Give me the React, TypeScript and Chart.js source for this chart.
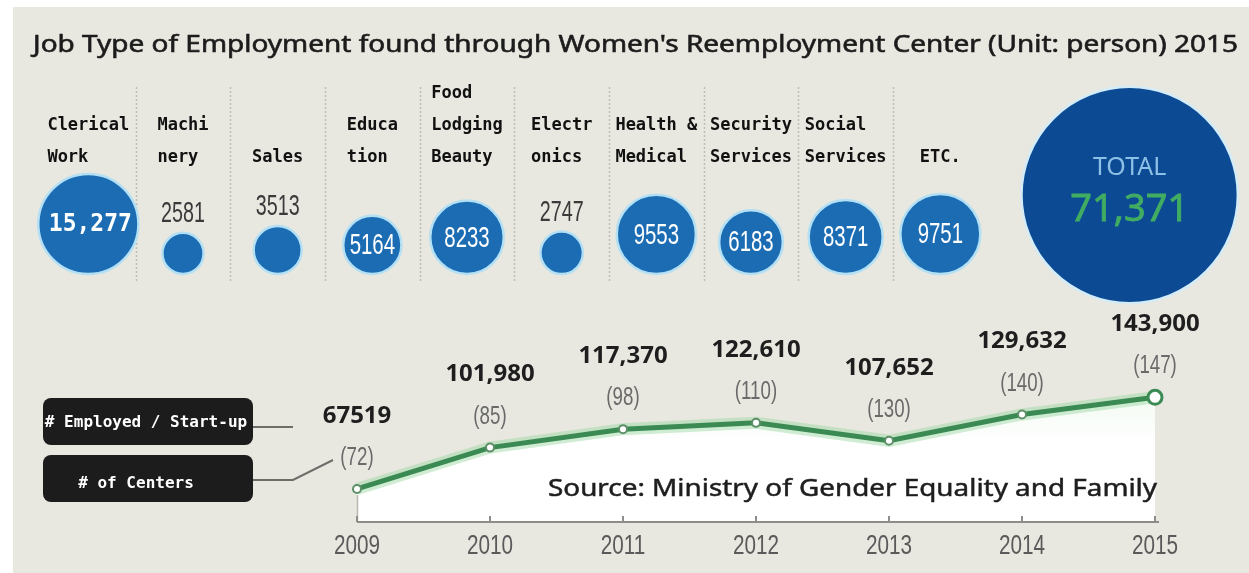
import React, { useEffect, useRef } from 'react';
import { Chart, registerables } from 'chart.js';

Chart.register(...registerables);

// ---------- data ----------
const titleText = "Job Type of Employment found through Women's Reemployment Center (Unit: person) 2015";
const jobCategories: string[][] = [
  ['Clerical', 'Work'],
  ['Machi', 'nery'],
  ['Sales'],
  ['Educa', 'tion'],
  ['Food', 'Lodging', 'Beauty'],
  ['Electr', 'onics'],
  ['Health &', 'Medical'],
  ['Security', 'Services'],
  ['Social', 'Services'],
  ['ETC.'],
];
const jobValues = [15277, 2581, 3513, 5164, 8233, 2747, 9553, 6183, 8371, 9751];
const totalLabel = 'TOTAL';
const totalValue = 71371;

const years = ['2009', '2010', '2011', '2012', '2013', '2014', '2015'];
const employed = [67519, 101980, 117370, 122610, 107652, 129632, 143900];
const centers = [72, 85, 98, 110, 130, 140, 147];
const legendLabels = ['# Employed / Start-up', '# of Centers'];
const sourceText = 'Source: Ministry of Gender Equality and Family';

// ---------- style constants ----------
const BUBBLE_K = 0.405; // px radius per sqrt(person)
const BUBBLE_BASE = 46; // bottom line of bubbles (scale units from bottom of top canvas)
const TOTAL_CENTER = 125;
const TOP_H = 320;
const BOT_H = 273;

const fmtComma = (v: number) => v.toLocaleString('en-US');

function drawText(
  ctx: CanvasRenderingContext2D,
  text: string,
  x: number,
  y: number,
  font: string,
  color: string,
  sx = 1,
  align: CanvasTextAlign = 'center',
  stroke = 0
) {
  ctx.save();
  ctx.font = font;
  ctx.fillStyle = color;
  ctx.textAlign = align;
  ctx.textBaseline = 'middle';
  ctx.translate(x, y);
  ctx.scale(sx, 1);
  ctx.fillText(text, 0, 0);
  if (stroke > 0) {
    ctx.strokeStyle = color;
    ctx.lineWidth = stroke;
    ctx.strokeText(text, 0, 0);
  }
  ctx.restore();
}

function fitText(
  ctx: CanvasRenderingContext2D,
  text: string,
  x: number,
  y: number,
  font: string,
  color: string,
  width: number,
  align: CanvasTextAlign = 'left',
  stroke = 0
) {
  ctx.save();
  ctx.font = font;
  const w = ctx.measureText(text).width;
  ctx.restore();
  let sx = width / w;
  sx = Math.max(0.8, Math.min(1.3, sx));
  drawText(ctx, text, x, y, font, color, sx, align, stroke);
}

const NARROW = '"Liberation Sans", Arial, sans-serif';
const PIXEL = '"DejaVu Sans Mono", monospace';
const SANS = '"Noto Sans", "Open Sans", sans-serif';

const topPlugin = {
  id: 'topDecor',
  beforeDatasetsDraw(chart: any) {
    const ctx: CanvasRenderingContext2D = chart.ctx;
    const xs = chart.scales.x;
    ctx.save();
    ctx.strokeStyle = '#bebcb4';
    ctx.lineWidth = 1.5;
    ctx.setLineDash([2, 2]);
    for (let i = 0; i < jobValues.length - 1; i++) {
      const x = Math.round((xs.getPixelForValue(i) + xs.getPixelForValue(i + 1)) / 2) + 0.5;
      ctx.beginPath();
      ctx.moveTo(x, 87);
      ctx.lineTo(x, 283);
      ctx.stroke();
    }
    ctx.restore();

    // title
    fitText(ctx, titleText, 33, 45, `24px ${SANS}`, '#1c1c1c', 1205, 'left', 0.6);

    // category labels
    ctx.save();
    ctx.font = `bold 17px ${PIXEL}`;
    ctx.fillStyle = '#111111';
    ctx.textAlign = 'left';
    ctx.textBaseline = 'middle';
    jobCategories.forEach((lines, i) => {
      const cx = xs.getPixelForValue(i);
      const w = Math.max(...lines.map((l) => ctx.measureText(l).width));
      const left = cx - w / 2;
      lines.forEach((l, j) => {
        ctx.fillText(l, left, 158 - (lines.length - 1 - j) * 32);
      });
    });
    ctx.restore();
  },
  afterDatasetsDraw(chart: any) {
    const ctx: CanvasRenderingContext2D = chart.ctx;
    const meta = chart.getDatasetMeta(0);
    jobValues.forEach((v, i) => {
      const el = meta.data[i];
      const r = el.options.radius;
      if (v >= 10000) {
        drawText(ctx, fmtComma(v), el.x + 2, el.y + 1, `bold 25px ${PIXEL}`, '#ffffff', 0.92);
      } else if (r > 26) {
        drawText(ctx, String(v), el.x, el.y + 1, `30px ${NARROW}`, '#ffffff', 0.68);
      } else {
        drawText(ctx, String(v), el.x, el.y - r - 19, `29px ${NARROW}`, '#3a3a3a', 0.68);
      }
    });
    const tm = chart.getDatasetMeta(1).data[0];
    drawText(ctx, totalLabel, tm.x, tm.y - 27, `25px ${SANS}`, '#8cc0e6', 1);
    drawText(ctx, fmtComma(totalValue), tm.x, tm.y + 15, `38px ${SANS}`, '#41ad62', 1, 'center', 0.8);
  },
};

const botPlugin = {
  id: 'botDecor',
  afterDatasetsDraw(chart: any) {
    const ctx: CanvasRenderingContext2D = chart.ctx;
    const xs = chart.scales.x;
    const ca = chart.chartArea;
    const meta = chart.getDatasetMeta(1);
    const x0 = xs.getPixelForValue(0);
    const xN = xs.getPixelForValue(years.length - 1);

    ctx.save();
    // faint left edge of area
    ctx.strokeStyle = '#b8b8b2';
    ctx.lineWidth = 1.5;
    ctx.beginPath();
    ctx.moveTo(x0 + 0.5, meta.data[0].y + 6);
    ctx.lineTo(x0 + 0.5, ca.bottom);
    ctx.stroke();
    // axis
    ctx.strokeStyle = '#8d8d8a';
    ctx.lineWidth = 2;
    ctx.beginPath();
    ctx.moveTo(x0, ca.bottom);
    ctx.lineTo(xN + 4, ca.bottom);
    ctx.stroke();
    years.forEach((_, i) => {
      const x = xs.getPixelForValue(i);
      ctx.beginPath();
      ctx.moveTo(x, ca.bottom);
      ctx.lineTo(x, ca.bottom - 6);
      ctx.stroke();
    });
    ctx.restore();

    years.forEach((y, i) => {
      drawText(ctx, y, xs.getPixelForValue(i), ca.bottom + 24, `28px ${NARROW}`, '#5a5a5a', 0.74);
    });

    // value labels
    employed.forEach((v, i) => {
      const el = meta.data[i];
      const txt = v >= 100000 ? fmtComma(v) : String(v);
      drawText(ctx, txt, el.x, el.y - 73, `bold 24px ${SANS}`, '#1e1e1e', 1);
      drawText(ctx, `(${centers[i]})`, el.x, el.y - 31, `26px ${NARROW}`, '#6a6a6a', 0.72);
    });

    // source
    fitText(ctx, sourceText, xN + 2, 189, `24px ${SANS}`, '#1e1e1e', 609, 'right', 0.5);

    // legend boxes
    ctx.save();
    ctx.fillStyle = '#1c1c1c';
    ctx.beginPath();
    (ctx as any).roundRect(43, 98, 210, 47, 8);
    ctx.fill();
    ctx.beginPath();
    (ctx as any).roundRect(43, 155, 210, 47, 8);
    ctx.fill();
    ctx.strokeStyle = '#6d6d6a';
    ctx.lineWidth = 2;
    ctx.beginPath();
    ctx.moveTo(253, 127);
    ctx.lineTo(293, 127);
    ctx.stroke();
    ctx.beginPath();
    ctx.moveTo(253, 180);
    ctx.lineTo(293, 180);
    ctx.lineTo(333, 160);
    ctx.stroke();
    ctx.restore();
    drawText(ctx, legendLabels[0], 146, 123, `bold 16px ${PIXEL}`, '#ffffff', 1);
    drawText(ctx, legendLabels[1], 136, 184, `bold 16px ${PIXEL}`, '#ffffff', 1);
  },
};

export default function App() {
  const topRef = useRef<HTMLCanvasElement>(null);
  const botRef = useRef<HTMLCanvasElement>(null);

  useEffect(() => {
    const bubbleData = jobValues.map((v, i) => {
      const r = BUBBLE_K * Math.sqrt(v);
      return { x: i, y: BUBBLE_BASE + r, r };
    });
    const totalData = [{ x: jobValues.length + 1, y: TOTAL_CENTER, r: BUBBLE_K * Math.sqrt(totalValue) }];

    const c1 = new Chart(topRef.current!, {
      type: 'bubble',
      data: {
        datasets: [
          {
            data: bubbleData,
            backgroundColor: '#1b6cb3',
            borderColor: '#b3e0f4',
            borderWidth: 2.5,
            clip: false as any,
          },
          {
            data: totalData,
            backgroundColor: '#0c4b94',
            borderColor: '#d3ecf7',
            borderWidth: 2.5,
            clip: false as any,
          },
        ],
      },
      options: {
        responsive: false,
        animation: false,
        events: [],
        layout: { autoPadding: false, padding: { left: 41, right: 72, top: 0, bottom: 0 } },
        scales: {
          x: { type: 'linear', min: -0.5, max: 11.5, display: false },
          y: { type: 'linear', min: 0, max: TOP_H, display: false },
        },
        plugins: { legend: { display: false }, tooltip: { enabled: false } },
      } as any,
      plugins: [topPlugin],
    });

    const last = employed.length - 1;
    const c2 = new Chart(botRef.current!, {
      type: 'line',
      data: {
        labels: years,
        datasets: [
          {
            data: employed,
            borderColor: 'rgba(150,215,160,0.45)',
            borderWidth: 12,
            pointRadius: 0,
            fill: false,
            order: 2,
            clip: false as any,
          },
          {
            data: employed,
            borderColor: '#3b8a53',
            borderWidth: 5,
            tension: 0,
            fill: 'start',
            backgroundColor: (ctx: any) => {
              const ca = ctx.chart.chartArea;
              if (!ca) return '#ffffff';
              const g = ctx.chart.ctx.createLinearGradient(0, ca.top, 0, ca.bottom);
              g.addColorStop(0, '#eef8ee');
              g.addColorStop(0.45, '#ffffff');
              g.addColorStop(1, '#ffffff');
              return g;
            },
            pointRadius: (ctx: any) => (ctx.dataIndex === last ? 7 : 4),
            pointBackgroundColor: '#ffffff',
            pointBorderColor: (ctx: any) => (ctx.dataIndex === last ? '#3b8a53' : '#5e8f68'),
            pointBorderWidth: (ctx: any) => (ctx.dataIndex === last ? 3 : 2),
            order: 1,
            clip: false as any,
          },
        ],
      },
      options: {
        responsive: false,
        animation: false,
        events: [],
        layout: { autoPadding: false, padding: { left: 357, right: 94, top: 78, bottom: 51 } },
        scales: {
          x: { type: 'category', display: false, offset: false },
          y: { type: 'linear', min: 40000, max: 160000, display: false },
        },
        plugins: {
          legend: { display: false },
          tooltip: { enabled: false },
          filler: { drawTime: 'beforeDatasetsDraw' },
        },
      } as any,
      plugins: [botPlugin],
    });

    return () => {
      c1.destroy();
      c2.destroy();
    };
  }, []);

  return (
    <div
      style={{
        position: 'absolute',
        left: 0,
        top: 0,
        width: 1249,
        height: 573,
        background: '#ffffff',
        overflow: 'hidden',
      }}
    >
      <div style={{ position: 'absolute', left: 13, top: 7, right: 0, bottom: 0, background: '#e8e7e0' }} />
      <canvas ref={topRef} width={1249} height={TOP_H} style={{ position: 'absolute', left: 0, top: 0 }} />
      <canvas ref={botRef} width={1249} height={BOT_H} style={{ position: 'absolute', left: 0, top: 300 }} />
    </div>
  );
}
